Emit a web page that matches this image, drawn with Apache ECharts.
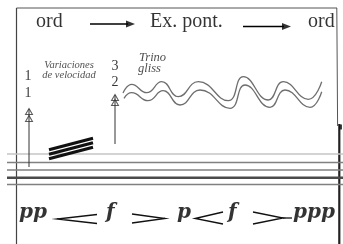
<!DOCTYPE html>
<html><head><meta charset="utf-8">
<script src="https://cdn.jsdelivr.net/npm/echarts@6/dist/echarts.min.js"></script>
<style>html,body{margin:0;padding:0;background:#fff}#c{width:343px;height:244px}</style>
</head><body><div id="c"></div>
<script>
// ---- data (in a 343 x 244 value space, y downward) ----
const frameTop = [[16.5, 8], [337, 8]];
const frameLeft = [[16.5, 8], [16.5, 244]];
const frameRight = [[336.8, 8], [337.6, 126]];
const frameRightLow = [[339.3, 124], [339.3, 244]];
const staffY = [154, 162.5, 170, 177.8, 184.5];
const staffX = [7, 343];

const waveUpper = [[123,93],[131.7,84.3],[146.7,92.7],[161.7,81.7],[178.3,96.7],[198.3,81.7],[228.3,100.7],[243.3,76.7],[268.3,100],[283.3,81.7],[308.3,99.3],[321.7,81.7]];
const waveLower = [[124,98.3],[131.7,92.7],[148,100.7],[163,90.7],[180,105],[200,90],[230,108.3],[245,85],[270,107.3],[285,90],[310,107.3],[321.7,91.7]];

const tremoloBars = [
  [[49,149.8],[93,138.2]],
  [[49,154.3],[93,142.7]],
  [[49,158.8],[93,147.2]]
];

const arrowLines = [[[90,24],[128,24]], [[243,26.5],[284,26.5]]];
const arrowHeads = [[130.5,24], [286.5,26.5]];

const shafts = [[[29,109],[29,167]], [[115,95],[115,144]]];
const openHeads = [[29,111.5],[29,118.5],[115,97.5],[115,102.5]];

const hairpins = [
  [[97,214.5],[57,219],[97,223.5]],
  [[132,214],[165,218.5],[132,223]],
  [[223,212],[195,218.5],[223,224]],
  [[253,212],[283,218],[253,224]]
];
const hairpinTail = [[283,218],[292,218]];

const headerTexts = ['ord', 'Ex. pont.', 'ord'];
const headerAt = [[36,21.5],[150,21.5],[308,21.5]];
const numberTexts = ['1', '1', '3', '2'];
const numberAt = [[28,76],[28,93],[115,66.8],[115,82.8]];
const noteTexts = ['Variaciones', 'de velocidad', 'Trino', 'gliss'];
const noteAt = [[69,65],[69,75.5],[139,58],[138,68.5]];
const dynTexts = ['pp', 'f', 'p', 'f', 'ppp'];
const dynAt = [[19,213],[106,213],[177,213],[228,213],[293,213]];

// ---- build ----
const series = [];
function line(points, color, width, extra) {
  series.push(Object.assign({
    type: 'line', data: points, symbol: 'none', silent: true, animation: false,
    lineStyle: { color: color, width: width, cap: 'butt', join: 'miter' }, z: 2
  }, extra || {}));
}
line(frameTop, '#555', 1);
line(frameLeft, '#444', 1.2);
line(frameRight, '#555', 1);
line(frameRightLow, '#222', 2.2);
staffY.forEach((y, i) => {
  const col = i === 0 ? '#c4c4c4' : (i === 3 ? '#4a4a4a' : '#808080');
  const w = i === 3 ? 2.4 : 1.3;
  line(staffX.map(x => [x, y]), col, w);
});
line(waveUpper, '#6e6e6e', 1.3, { smooth: 0.5 });
line(waveLower, '#6e6e6e', 1.3, { smooth: 0.5 });
tremoloBars.forEach(b => line(b, '#111', 3.2));
arrowLines.forEach(a => line(a, '#000', 1.6));
shafts.forEach(s => line(s, '#333', 1));
hairpins.forEach(h => line(h, '#111', 1.3));
line(hairpinTail, '#111', 1.3);

series.push({
  type: 'scatter', silent: true, animation: false, z: 3,
  data: arrowHeads, symbol: 'triangle', symbolSize: [7, 9], symbolRotate: -90,
  itemStyle: { color: '#000' }
});
series.push({
  type: 'scatter', silent: true, animation: false, z: 3,
  data: openHeads, symbol: 'triangle', symbolSize: [7, 6],
  itemStyle: { color: 'rgba(255,255,255,0)', borderColor: '#333', borderWidth: 1 }
});
series.push({
  type: 'scatter', silent: true, animation: false, z: 3,
  data: [[340.5, 127]], symbol: 'rect', symbolSize: [3, 5],
  itemStyle: { color: '#111' }
});

function textSeries(texts, at, style, align) {
  series.push({
    type: 'scatter', silent: true, animation: false, z: 5, symbolSize: 0,
    data: texts.map((t, i) => ({ value: at[i], name: t })),
    label: Object.assign({
      show: true, position: 'inside', formatter: p => p.name,
      align: align, verticalAlign: 'middle', color: '#000'
    }, style),
    labelLayout: { hideOverlap: false }
  });
}
textSeries(headerTexts, headerAt, { fontFamily: 'Liberation Serif', fontSize: 20 }, 'left');
textSeries(numberTexts, numberAt, { fontFamily: 'Liberation Serif', fontSize: 14 }, 'center');
textSeries(noteTexts.slice(0, 2), noteAt.slice(0, 2), { fontFamily: 'Liberation Serif', fontStyle: 'italic', fontSize: 10.5, color: '#222' }, 'center');
textSeries(noteTexts.slice(2), noteAt.slice(2), { fontFamily: 'Liberation Serif', fontStyle: 'italic', fontSize: 12.5, color: '#222' }, 'left');
textSeries(dynTexts, dynAt, { fontFamily: 'DejaVu Serif', fontStyle: 'italic', fontWeight: 'bold', fontSize: 20 }, 'left');

const chart = echarts.init(document.getElementById('c'), null, { renderer: 'canvas' });
chart.setOption({
  animation: false,
  backgroundColor: '#fff',
  grid: { left: 0, right: 0, top: 0, bottom: 0 },
  xAxis: { type: 'value', min: 0, max: 343, show: false },
  yAxis: { type: 'value', min: 0, max: 244, inverse: true, show: false },
  series: series
});
</script></body></html>
